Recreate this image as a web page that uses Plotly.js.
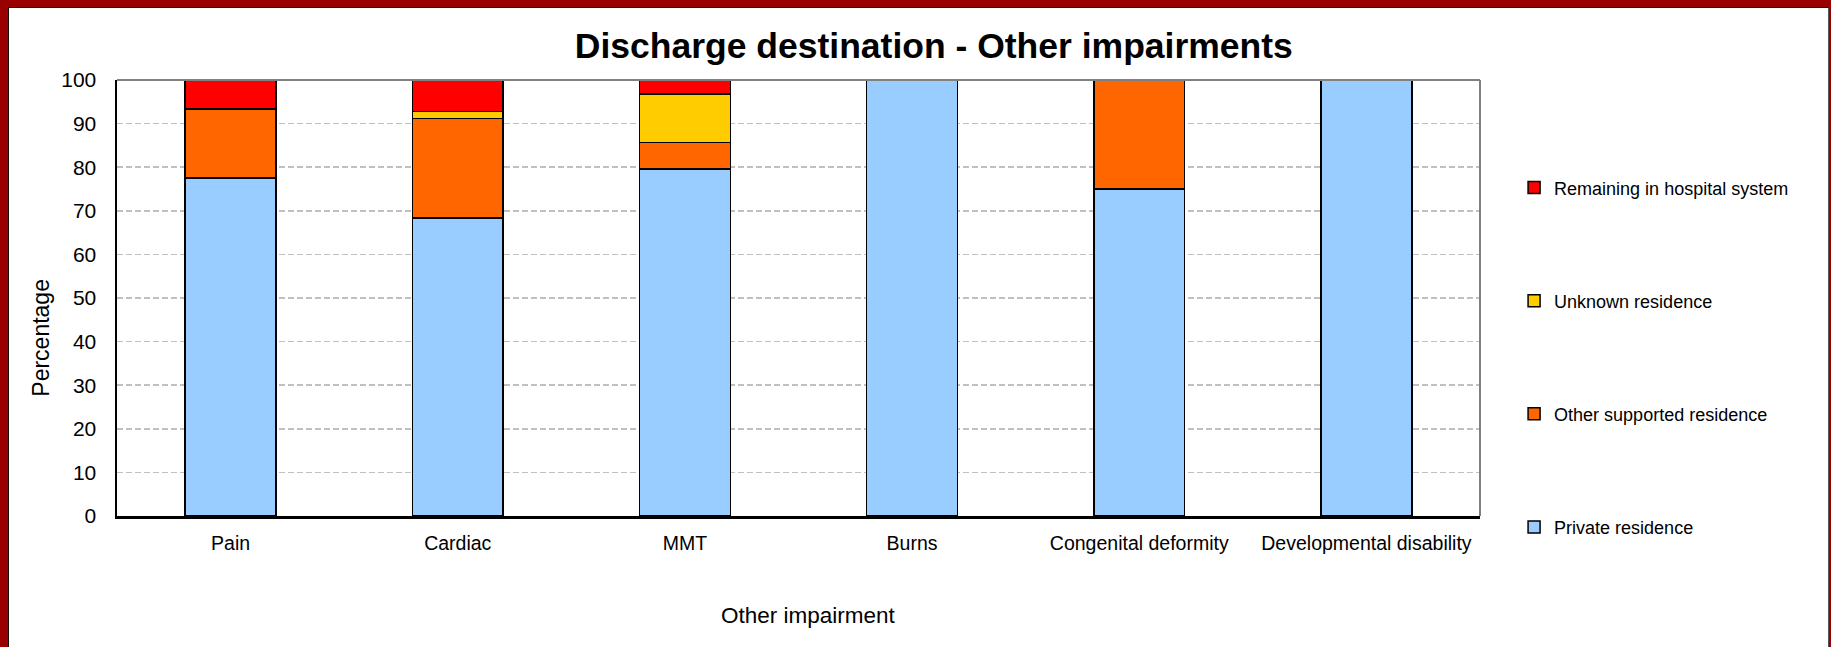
<!DOCTYPE html>
<html>
<head>
<meta charset="utf-8">
<script src="https://cdn.plot.ly/plotly-3.0.1.min.js"></script>
<style>
  html, body { margin: 0; padding: 0; background: #ffffff; }
  #wrap { position: relative; width: 1831px; height: 647px; overflow: hidden; }
  #chart { position: absolute; left: 0; top: 0; width: 1831px; height: 647px; }
  .frame { position: absolute; pointer-events: none; }
</style>
</head>
<body>
<div id="wrap">
  <div id="chart"></div>
  <div class="frame" style="left:0;top:0;width:1831px;height:7px;background:#990000;"></div>
  <div class="frame" style="left:0;top:0;width:8px;height:647px;background:#990000;"></div>
  <div class="frame" style="right:0;top:0;width:2px;height:647px;background:#990000;"></div>
  <div class="frame" style="left:8px;top:7px;width:1821px;height:640px;border-left:1.5px solid #111;border-top:1.5px solid #111;border-right:1.5px solid #555;box-sizing:border-box;"></div>
</div>
<script>
const categories = ['Pain', 'Cardiac', 'MMT', 'Burns', 'Congenital deformity', 'Developmental disability'];
const seriesNames = ['Private residence', 'Other supported residence', 'Unknown residence', 'Remaining in hospital system'];
const privateResidence = [77.5, 68.3, 79.6, 100, 75, 100];
const otherSupported = [15.8, 22.9, 6.1, 0, 25, 0];
const unknownResidence = [0, 1.6, 11.1, 0, 0, 0];
const remainingHospital = [6.7, 7.2, 3.2, 0, 0, 0];
const yTicks = [0, 10, 20, 30, 40, 50, 60, 70, 80, 90, 100];

const seriesValues = [privateResidence, otherSupported, unknownResidence, remainingHospital];
const seriesColors = ['#99CCFF', '#FF6600', '#FFCC00', '#FF0000'];

const narrow = '"Liberation Sans Narrow", "Arial Narrow", "Liberation Sans", Arial, sans-serif';

const traces = seriesValues.map((vals, i) => ({
  type: 'bar',
  name: seriesNames[i],
  x: categories,
  y: vals,
  legendgroup: 'g' + i,
  legendrank: 1000 - i,
  marker: { color: seriesColors[i], line: { color: '#000000', width: 1.5 } },
  hoverinfo: 'x+y+name'
}));

const layout = {
  width: 1831,
  height: 647,
  paper_bgcolor: 'rgba(0,0,0,0)',
  plot_bgcolor: '#ffffff',
  barmode: 'stack',
  bargap: 0.6,
  margin: { l: 117, r: 351, t: 80, b: 131, pad: 0 },
  title: {
    text: '<b>Discharge destination - Other impairments</b>',
    font: { family: '"Liberation Sans", Arial, sans-serif', size: 35.5, color: '#000000' },
    x: 0.51, xanchor: 'center',
    y: 0.93, yanchor: 'middle'
  },
  xaxis: {
    type: 'category',
    showline: true, linecolor: '#000000', linewidth: 3,
    showgrid: false, zeroline: false,
    ticks: '', ticklabelstandoff: 8,
    tickfont: { family: narrow, size: 19.5, color: '#000000' }
  },
  yaxis: {
    range: [0, 100],
    tickvals: yTicks,
    ticktext: yTicks.map(String),
    showline: true, linecolor: '#000000', linewidth: 2.5,
    showgrid: true, gridcolor: '#C0C0C0', gridwidth: 1.5, griddash: '6px,3px',
    zeroline: false,
    ticks: '', ticklabelstandoff: 14,
    tickfont: { family: narrow, size: 21, color: '#000000' }
  },
  annotations: [
    { text: 'Percentage', xref: 'paper', yref: 'paper',
      x: (41 - 117) / 1363, y: (516.5 - 338) / 436.5, xanchor: 'center', yanchor: 'middle',
      textangle: -90, showarrow: false,
      font: { family: narrow, size: 23, color: '#000000' } },
    { text: 'Other impairment', xref: 'paper', yref: 'paper',
      x: (808 - 117) / 1363, y: (516.5 - 616.5) / 436.5, xanchor: 'center', yanchor: 'middle',
      showarrow: false,
      font: { family: narrow, size: 22.5, color: '#000000' } }
  ],
  shapes: [
    { type: 'line', xref: 'paper', yref: 'paper', x0: 0, x1: 1, y0: 1, y1: 1, line: { color: '#808080', width: 2 } },
    { type: 'line', xref: 'paper', yref: 'paper', x0: 1, x1: 1, y0: 0, y1: 1, line: { color: '#808080', width: 2 } }
  ],
  showlegend: true,
  legend: {
    traceorder: 'grouped',
    tracegroupgap: 86.7,
    x: 1.025, xanchor: 'left',
    xref: 'paper',
    y: 0.795, yanchor: 'top',
    bgcolor: 'rgba(0,0,0,0)',
    font: { family: narrow, size: 18, color: '#000000' }
  }
};

Plotly.newPlot('chart', traces, layout, { displayModeBar: false, staticPlot: true });
</script>
</body>
</html>
